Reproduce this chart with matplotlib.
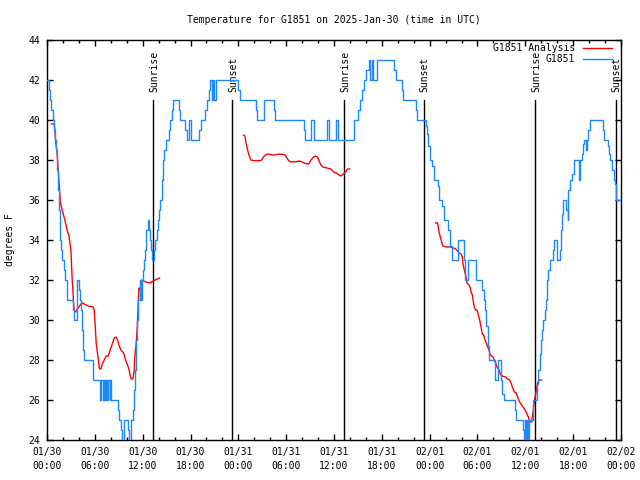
import matplotlib
matplotlib.use('Agg')
import matplotlib.pyplot as plt
from matplotlib.ticker import MultipleLocator

title = "Temperature for G1851 on 2025-Jan-30 (time in UTC)"

# hours since 01/30 00:00 UTC, station obs (step changes)
obs_hours = [0.0, 0.24, 0.40, 0.56, 0.72, 0.90, 1.03, 1.15, 1.28, 1.41, 1.53, 1.66, 1.78, 1.91,
             2.16, 2.32, 2.50, 2.57, 3.25, 3.41, 3.75, 3.98, 4.10, 4.25, 4.33, 4.50, 4.58, 5.83,
             6.68, 6.80, 6.99, 7.11, 7.30, 7.43, 7.55, 7.68, 7.87, 7.93, 8.09, 8.85, 9.06, 9.25,
             9.37, 9.69, 10.10, 10.28, 10.53, 10.78, 10.94, 11.07, 11.19, 11.28, 11.44, 11.61,
             11.82, 11.91, 12.01, 12.11, 12.28, 12.36, 12.48, 12.61, 12.82, 12.95, 13.07, 13.20,
             13.45, 13.54, 13.79, 13.95, 14.08, 14.20, 14.37, 14.54, 14.70, 14.87, 15.33, 15.46,
             15.62, 15.80, 16.52, 16.71, 17.34, 17.55, 17.80, 18.03, 19.10, 19.31, 19.85, 20.06,
             20.29, 20.48, 20.64, 20.85, 20.94, 21.23, 23.99, 24.15, 26.16, 26.34, 27.25, 28.42,
             28.63, 32.18, 32.40, 33.11, 33.46, 35.12, 35.35, 36.25, 36.54, 38.54, 39.05, 39.30,
             39.55, 39.71, 40.05, 40.34, 40.49, 40.80, 40.93, 41.37, 43.56, 43.73, 44.50, 44.69,
             46.26, 46.45, 47.49, 47.67, 47.83, 47.99, 48.33, 48.49, 49.08, 49.21, 49.59, 49.75,
             50.34, 50.59, 50.75, 51.59, 52.35, 52.43, 52.85, 53.85, 54.60, 54.77, 54.94, 55.11,
             55.27, 55.36, 55.45, 56.17, 56.52, 56.95, 57.11, 57.28, 58.75, 58.87, 59.71, 59.79,
             59.96, 60.06, 60.19, 60.29, 60.44, 60.97, 61.47, 61.63, 61.79, 61.97, 62.13, 62.22,
             62.47, 62.63, 62.72, 62.88, 63.05, 63.48, 63.64, 63.98, 64.39, 64.48, 64.64, 64.73,
             65.14, 65.31, 65.40, 65.56, 65.90, 66.06, 66.74, 66.90, 67.06, 67.24, 67.40, 67.65,
             67.78, 67.90, 68.07, 69.75, 69.82, 70.41, 70.50, 70.66, 70.83, 70.92, 71.08, 71.26,
             71.33, 71.42, 72.0]
obs_temp = [42, 41.5, 41, 40.5, 40, 39.5, 39, 38.5, 37.5, 36.5, 35.5, 34, 33.5, 33,
            32.5, 32, 31.5, 31, 30.5, 30, 32, 31.5, 31, 30.5, 29.5, 28.5, 28, 27,
            26, 27, 26, 27, 26, 27, 26, 27, 26, 27, 26, 25.5, 25, 24.5,
            23.5, 25, 24.5, 23.5, 25, 25.5, 26.5, 27.5, 29, 30, 31, 32,
            31, 32, 32.5, 33, 33.5, 34, 34.5, 35, 34.5, 34, 33.5, 33,
            33.5, 34, 34.5, 35, 35.5, 36, 37, 38, 38.5, 39, 39.5, 40,
            40.5, 41, 40.5, 40, 39.5, 39, 40, 39, 39.5, 40, 40.5, 41,
            41.5, 42, 41, 42, 41, 42, 41.5, 41, 40.5, 40, 41, 40.5,
            40, 39.5, 39, 40, 39, 40, 39, 40, 39, 40, 40.5, 41,
            41.5, 42, 42.5, 43, 42, 43, 42, 43, 42.5, 42, 41.5, 41,
            40.5, 40, 39.7, 39.3, 38.7, 38, 37.7, 37, 36.7, 36, 35.7, 35,
            34.5, 33.7, 33, 34, 33, 32, 33, 32, 31.5, 31, 30.5, 29.7,
            29.2, 28.7, 28, 27, 28, 27, 26.3, 26, 25.5, 25, 24.5, 23.5,
            25, 23.5, 25, 23.5, 25, 26, 26.8, 27.5, 28.3, 29, 29.5, 30,
            30.5, 31, 32, 32.5, 33, 33.5, 34, 33, 33.5, 34.5, 35.3, 36,
            35.5, 35, 36.5, 37, 37.3, 38, 37, 38, 38.3, 38.8, 39, 38.5,
            39, 39.5, 40, 39.5, 39, 38.7, 38.3, 38, 37.8, 37.5, 37, 36.8,
            36.3, 36, 36]

# analysis runs
ana1_hours = [0.56, 0.90, 0.99, 1.07, 1.15, 1.24, 1.32, 1.41, 1.49, 1.57, 1.66, 1.74, 1.91, 2.07,
              2.25, 2.41, 2.57, 2.75, 2.82, 3.00, 3.07, 3.16, 3.25, 3.32, 3.41, 3.58, 3.75, 3.91,
              4.25, 4.50, 4.67, 5.17, 5.76, 5.92, 6.01, 6.09, 6.17, 6.34, 6.51, 6.59, 6.76, 6.93,
              7.18, 7.43, 7.68, 7.93, 8.18, 8.43, 8.68, 8.85, 9.02, 9.27, 9.52, 9.69, 9.85, 10.10,
              10.28, 10.44, 10.60, 10.78, 10.94, 11.03, 11.19, 11.35, 11.44, 11.53, 11.69, 11.86,
              12.11, 12.45, 12.86, 13.11, 13.54, 13.86, 14.12]
ana1_temp = [39.8, 39.8, 39.5, 39, 38.7, 38.5, 38, 37.5, 37, 36.5, 36, 35.75, 35.5, 35.25,
             35, 34.7, 34.4, 34.25, 34, 33.5, 32.8, 32, 31.5, 30.9, 30.5, 30.4, 30.5, 30.6,
             30.8, 30.85, 30.8, 30.7, 30.65, 30.5, 30, 29.4, 28.85, 28.3, 27.8, 27.55, 27.55, 27.8,
             28, 28.2, 28.2, 28.5, 28.8, 29.1, 29.15, 29, 28.75, 28.5, 28.4, 28.25, 28, 27.75,
             27.55, 27.2, 27.05, 27.05, 27.5, 28.25, 28.8, 29.8, 30.8, 31.6, 31.5, 32,
             31.95, 31.9, 31.85, 31.9, 32, 32.05, 32.1]

ana2_hours = [24.65, 24.83, 24.99, 25.16, 25.33, 25.58, 25.91, 26.34, 26.84, 27.00, 27.16, 27.42,
              27.67, 28.01, 28.26, 28.59, 28.85, 29.17, 29.51, 29.85, 30.01, 30.26, 30.51, 30.93,
              31.18, 31.61, 31.93, 32.27, 32.61, 32.86, 33.11, 33.44, 33.69, 33.94, 34.19, 34.37,
              34.62, 35.12, 35.62, 35.95, 36.29, 36.62, 36.88, 37.20, 37.45, 37.70, 37.95]
ana2_temp = [39.25, 39.2, 38.8, 38.5, 38.25, 38, 37.97, 37.97, 37.97, 38.05, 38.15, 38.25,
             38.3, 38.28, 38.25, 38.25, 38.28, 38.3, 38.28, 38.25, 38.15, 38, 37.9, 37.92,
             37.9, 37.95, 37.92, 37.85, 37.8, 37.82, 38, 38.15, 38.2, 38.15, 37.9, 37.75,
             37.65, 37.6, 37.55, 37.4, 37.35, 37.25, 37.2, 37.3, 37.4, 37.55, 37.55]

ana3_hours = [48.75, 49.00, 49.08, 49.17, 49.34, 49.50, 49.67, 50.09, 50.59, 51.00, 51.25, 51.51,
              51.68, 51.93, 52.10, 52.18, 52.35, 52.51, 52.69, 52.94, 53.10, 53.19, 53.36, 53.44,
              53.60, 53.76, 53.94, 54.10, 54.27, 54.44, 54.60, 54.77, 54.94, 55.11, 55.27, 55.45,
              55.61, 55.77, 55.95, 56.11, 56.27, 56.45, 56.70, 56.86, 57.11, 57.53, 57.78, 58.03,
              58.21, 58.37, 58.62, 58.87, 59.03, 59.28, 59.54, 59.79, 60.04, 60.21, 60.38, 60.55,
              60.80, 60.88, 61.05, 61.22, 61.39, 61.54, 61.72, 62.05]
ana3_temp = [34.85, 34.85, 34.65, 34.4, 34.15, 33.9, 33.7, 33.65, 33.65, 33.6, 33.55, 33.45,
             33.35, 33.3, 33.15, 32.8, 32.5, 32.25, 31.85, 31.75, 31.6, 31.4, 31.25, 31,
             30.65, 30.5, 30.5, 30.25, 30, 29.65, 29.3, 29.25, 29, 28.85, 28.65, 28.5,
             28.25, 28.2, 28.15, 28, 27.85, 27.65, 27.5, 27.3, 27.2, 27.15, 27.05, 27,
             26.85, 26.65, 26.4, 26.35, 26.15, 25.9, 25.75, 25.6, 25.45, 25.3, 25.15, 24.9,
             24.9, 25.15, 25.65, 26.15, 26.5, 26.85, 27, 27]

sun_hours = [13.28, 23.17, 37.22, 47.24, 61.27, 71.32]
sun_labels = ['Sunrise', 'Sunset', 'Sunrise', 'Sunset', 'Sunrise', 'Sunset']

xtick_hours = [0, 6, 12, 18, 24, 30, 36, 42, 48, 54, 60, 66, 72]
xtick_labels = ['01/30\n00:00', '01/30\n06:00', '01/30\n12:00', '01/30\n18:00',
                '01/31\n00:00', '01/31\n06:00', '01/31\n12:00', '01/31\n18:00',
                '02/01\n00:00', '02/01\n06:00', '02/01\n12:00', '02/01\n18:00',
                '02/02\n00:00']

plt.rcParams['font.family'] = ['DejaVu Sans Mono']
plt.rcParams['font.size'] = 7

fig = plt.figure(figsize=(6.4, 4.8), dpi=100)
ax = fig.add_axes([47/640, 40/480, 574/640, 400/480])

# sunrise / sunset markers
for h, lab in zip(sun_hours, sun_labels):
    ax.plot([h, h], [41, 24], color='black', lw=1.0, zorder=1)
    ax.text(h + 0.15, 41.4, lab, rotation=90, ha='center', va='bottom', fontsize=7)

red = '#ff0000'
blue = '#1e88ff'
ax.plot(ana1_hours, ana1_temp, color=red, lw=1.0, label='G1851 Analysis', zorder=2)
ax.plot(ana2_hours, ana2_temp, color=red, lw=1.0, zorder=2)
ax.plot(ana3_hours, ana3_temp, color=red, lw=1.0, zorder=2)
ax.plot(obs_hours, obs_temp, color=blue, lw=1.0, drawstyle='steps-post', label='G1851', zorder=3)

ax.set_xlim(0, 72)
ax.set_ylim(24, 44)
ax.set_xticks(xtick_hours)
ax.set_xticklabels(xtick_labels, linespacing=1.5)
ax.xaxis.set_minor_locator(MultipleLocator(2))
ax.yaxis.set_major_locator(MultipleLocator(2))
ax.tick_params(which='both', direction='in', top=True, right=True, width=1.0)
ax.tick_params(which='major', length=4.5, pad=5)
ax.tick_params(which='minor', length=2.5)
for sp in ax.spines.values():
    sp.set_linewidth(1.0)

ax.set_ylabel('degrees F')
ax.yaxis.set_label_coords(-0.056, 0.5)

fig.text(334/640, 1 - 20/480, title, ha='center', va='center', fontsize=7)

ax.legend(loc='upper right', bbox_to_anchor=(612/640, 1 - 43/480), bbox_transform=fig.transFigure,
          frameon=False, markerfirst=False, handlelength=3.0, handletextpad=0.8,
          labelspacing=0.1, borderpad=0, borderaxespad=0, fontsize=7)

fig.savefig('out.png', dpi=100)
